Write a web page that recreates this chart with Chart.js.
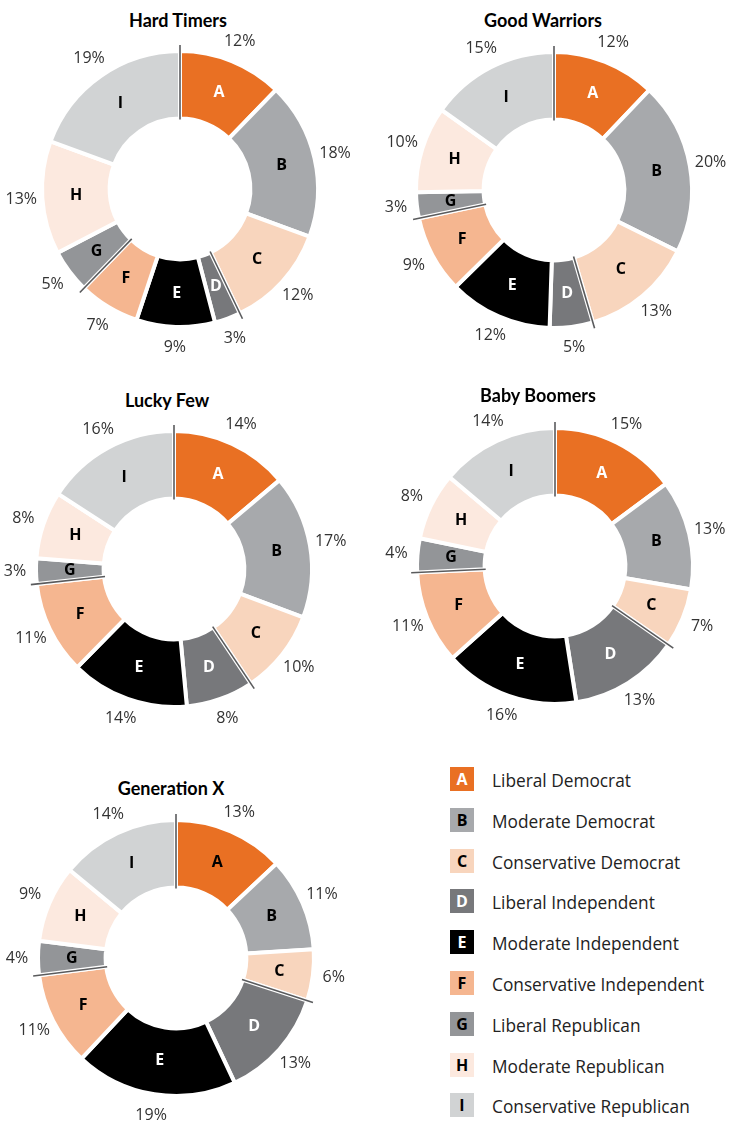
<!DOCTYPE html>
<html>
<head>
<meta charset="utf-8">
<script src="https://cdn.jsdelivr.net/npm/chart.js@4.4.0/dist/chart.umd.min.js"></script>
<style>
  html, body { margin: 0; padding: 0; background: #fff; overflow: hidden; }
  body { width: 737px; height: 1123px; position: relative; font-family: Lato, "Noto Sans", sans-serif; }
  canvas { position: absolute; }
  .title { position: absolute; width: 300px; text-align: center; font-weight: bold; font-size: 18px; line-height: 22px; color: #000; }
  .item { position: absolute; left: 450px; height: 24px; }
  .sq { position: absolute; left: 0; top: 0; width: 24px; height: 24px; font-weight: bold; font-size: 16px; line-height: 24px; text-align: center; font-family: "Open Sans", sans-serif; }
  .txt { position: absolute; left: 42px; top: 2px; line-height: 24px; font-size: 17.3px; color: #222; white-space: nowrap; font-family: "Open Sans", sans-serif; }
</style>
</head>
<body>
<script>
// segment letters and what they stand for
const categories = ["A", "B", "C", "D", "E", "F", "G", "H", "I"];
const categoryNames = [
  "Liberal Democrat", "Moderate Democrat", "Conservative Democrat",
  "Liberal Independent", "Moderate Independent", "Conservative Independent",
  "Liberal Republican", "Moderate Republican", "Conservative Republican"
];
const colors = ["#E97023", "#A7A9AC", "#F8D5BD", "#77787B", "#000000", "#F5B690", "#939598", "#FCE9DF", "#D1D3D4"];
const letterColors = ["#fff", "#000", "#000", "#fff", "#fff", "#000", "#000", "#000", "#000"];

// percent shares per generation
const hardTimers   = [12, 18, 12, 3, 9, 7, 5, 13, 19];
const goodWarriors = [12, 20, 13, 5, 12, 9, 3, 10, 15];
const luckyFew     = [14, 17, 10, 8, 14, 11, 3, 8, 16];
const babyBoomers  = [15, 13, 7, 13, 16, 11, 4, 8, 14];
const generationX  = [13, 11, 6, 13, 19, 11, 4, 9, 14];

// boundaries that get the dark divider line (start of A, C|D, F|G)
const dividerAfter = [-1, 2, 5];

const SIZE = 380;

const labelPlugin = {
  id: "segLabels",
  afterDatasetsDraw(chart) {
    const ctx = chart.ctx;
    const arcs = chart.getDatasetMeta(0).data;
    const vals = chart.data.datasets[0].data;
    const lc = chart.options.plugins.segLabels.letterColors;
    ctx.save();
    // divider lines
    dividerAfter.forEach(i => {
      const arc = i < 0 ? arcs[0] : arcs[i];
      const a = i < 0 ? arc.startAngle : arc.endAngle;
      const r0 = arc.innerRadius - 1, r1 = arc.outerRadius + 6;
      ctx.strokeStyle = "#5a5b5d";
      ctx.lineWidth = 1.6;
      ctx.beginPath();
      ctx.moveTo(arc.x + Math.cos(a) * r0, arc.y + Math.sin(a) * r0);
      ctx.lineTo(arc.x + Math.cos(a) * r1, arc.y + Math.sin(a) * r1);
      ctx.stroke();
    });
    ctx.textAlign = "center";
    ctx.textBaseline = "middle";
    arcs.forEach((arc, i) => {
      const mid = (arc.startAngle + arc.endAngle) / 2;
      const rm = (arc.innerRadius + arc.outerRadius) / 2;
      ctx.font = "bold 16px 'Open Sans'";
      ctx.fillStyle = lc[i];
      ctx.fillText(categories[i], arc.x + Math.cos(mid) * rm, arc.y + Math.sin(mid) * rm);
      const ro = arc.outerRadius + 21;
      ctx.font = "16px 'Open Sans'";
      ctx.fillStyle = "#333";
      ctx.fillText(vals[i] + "%", arc.x + Math.cos(mid) * ro, arc.y + Math.sin(mid) * ro);
    });
    ctx.restore();
  }
};

function addTitle(text, x, y) {
  const d = document.createElement("div");
  d.className = "title";
  d.textContent = text;
  d.style.left = (x - 150) + "px";
  d.style.top = (y - 11) + "px";
  document.body.appendChild(d);
}

function makeDonut(title, values, cx, cy, tx, ty, lc) {
  addTitle(title, tx, ty);
  const cv = document.createElement("canvas");
  cv.width = SIZE;
  cv.height = SIZE;
  cv.style.left = (cx - SIZE / 2) + "px";
  cv.style.top = (cy - SIZE / 2) + "px";
  document.body.appendChild(cv);
  new Chart(cv, {
    type: "doughnut",
    data: {
      labels: categories,
      datasets: [{
        data: values,
        backgroundColor: colors,
        borderColor: "#ffffff",
        borderWidth: 4,
        borderJoinStyle: "miter"
      }]
    },
    options: {
      responsive: false,
      animation: false,
      radius: 138,
      cutout: "51%",
      layout: { padding: 0 },
      plugins: {
        legend: { display: false },
        tooltip: { enabled: false },
        segLabels: { letterColors: lc || letterColors }
      }
    },
    plugins: [labelPlugin]
  });
}

makeDonut("Hard Timers", hardTimers, 180, 189, 178, 20);
makeDonut("Good Warriors", goodWarriors, 554, 190, 543, 20);
makeDonut("Lucky Few", luckyFew, 174, 569, 167, 400);
makeDonut("Baby Boomers", babyBoomers, 555, 566, 538, 395);
makeDonut("Generation X", generationX, 176, 958, 171, 788,
  ["#000"].concat(letterColors.slice(1)));

// legend
categories.forEach((c, i) => {
  const it = document.createElement("div");
  it.className = "item";
  it.style.top = (767 + i * 40.8) + "px";
  const sq = document.createElement("div");
  sq.className = "sq";
  sq.style.background = colors[i];
  sq.style.color = letterColors[i];
  sq.textContent = c;
  const tx = document.createElement("div");
  tx.className = "txt";
  tx.textContent = categoryNames[i];
  it.appendChild(sq);
  it.appendChild(tx);
  document.body.appendChild(it);
});
</script>
</body>
</html>
